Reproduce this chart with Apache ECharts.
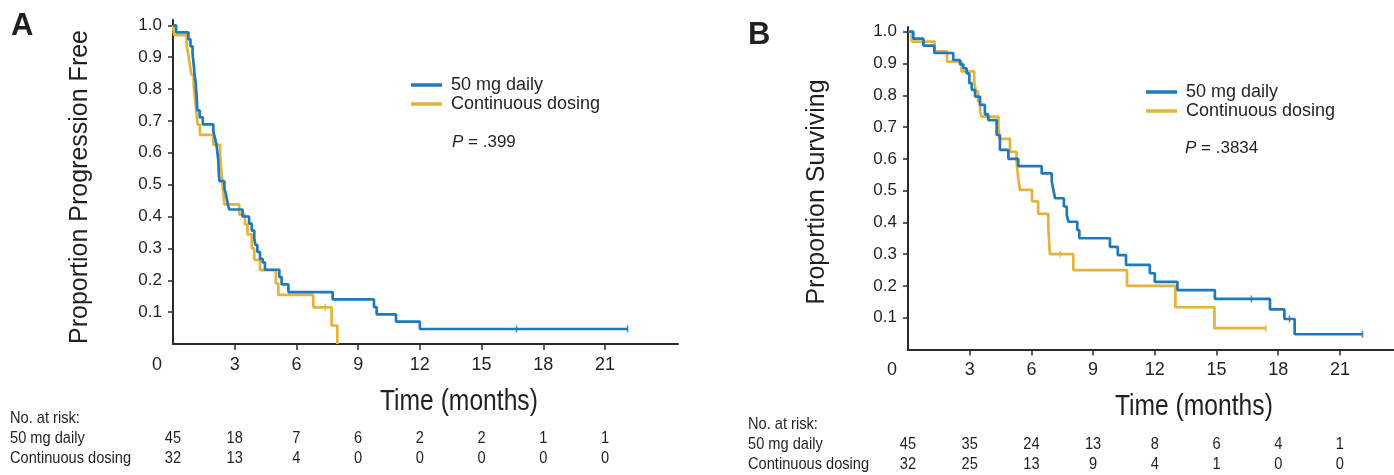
<!DOCTYPE html>
<html><head><meta charset="utf-8">
<script src="https://cdn.jsdelivr.net/npm/echarts@6/dist/echarts.min.js"></script>
<style>html,body{margin:0;padding:0;background:#fff}#c{width:1394px;height:475px}</style>
</head><body><div id="c"></div>
<script>
// ---------- data ----------
const timeTicks = [0, 3, 6, 9, 12, 15, 18, 21];
const yTicks = [0.1, 0.2, 0.3, 0.4, 0.5, 0.6, 0.7, 0.8, 0.9, 1.0];
const seriesNames = ['50 mg daily', 'Continuous dosing'];
const panelLabels = ['A', 'B'];
const yTitles = ['Proportion Progression Free', 'Proportion Surviving'];
const xTitle = 'Time (months)';
const pValues = ['.399', '.3834'];
const riskHeader = 'No. at risk:';

// Panel A: progression-free (time, proportion) - step points
const pfs50 = [[0,1.0],[0.15,0.978],[0.75,0.956],[0.85,0.934],[0.95,0.911],[1.02,0.867],[1.05,0.844],[1.1,0.822],[1.12,0.8],[1.15,0.778],[1.18,0.733],[1.3,0.711],[1.45,0.689],[1.96,0.667],[2.05,0.644],[2.12,0.622],[2.2,0.578],[2.23,0.533],[2.26,0.511],[2.5,0.489],[2.58,0.467],[2.65,0.444],[2.73,0.422],[3.38,0.4],[3.7,0.378],[3.83,0.356],[3.95,0.333],[4.0,0.311],[4.1,0.289],[4.23,0.267],[4.36,0.256],[4.47,0.233],[5.17,0.21],[5.28,0.187],[5.61,0.163],[7.76,0.14],[9.77,0.116],[9.9,0.093],[10.84,0.07],[12.0,0.047],[22.1,0.047]];
const pfsCont = [[0,1.0],[0.05,0.969],[0.66,0.938],[0.75,0.906],[0.82,0.875],[0.9,0.844],[1.0,0.813],[1.05,0.781],[1.1,0.75],[1.15,0.719],[1.2,0.688],[1.31,0.656],[1.96,0.625],[2.29,0.594],[2.33,0.563],[2.37,0.531],[2.41,0.5],[2.45,0.469],[2.5,0.438],[3.22,0.406],[3.5,0.375],[3.62,0.344],[3.83,0.3],[3.95,0.264],[4.23,0.232],[5.0,0.19],[5.12,0.154],[6.82,0.115],[7.71,0.058],[7.99,0]];
const pfsCens50 = [[16.7,0.047],[22.1,0.047]];
const pfsCensCont = [[7.4,0.115]];

// Panel B: overall survival
const os50 = [[0,1.0],[0.26,0.978],[0.75,0.956],[1.28,0.933],[2.2,0.911],[2.53,0.897],[2.69,0.885],[2.85,0.869],[2.98,0.838],[3.1,0.817],[3.26,0.796],[3.5,0.77],[3.74,0.74],[3.9,0.722],[4.31,0.675],[4.47,0.628],[4.88,0.6],[5.36,0.577],[6.5,0.554],[6.99,0.528],[7.07,0.502],[7.15,0.476],[7.58,0.45],[7.72,0.423],[7.8,0.402],[8.23,0.376],[8.33,0.35],[9.82,0.323],[10.2,0.297],[10.6,0.266],[11.76,0.24],[12.0,0.213],[13.1,0.187],[14.92,0.159],[17.6,0.126],[18.3,0.096],[18.8,0.048],[22.1,0.048]];
const osCont = [[0,1.0],[0.18,0.969],[1.3,0.938],[1.9,0.906],[2.6,0.875],[3.22,0.844],[3.3,0.813],[3.4,0.781],[3.5,0.75],[3.58,0.733],[4.4,0.7],[4.45,0.663],[4.96,0.622],[5.28,0.59],[5.36,0.54],[5.44,0.502],[6.03,0.466],[6.33,0.427],[6.82,0.385],[6.9,0.3],[8.04,0.25],[10.65,0.2],[13.0,0.133],[14.9,0.067],[17.4,0.067]];
const osCens50 = [[16.7,0.159],[18.55,0.096],[22.1,0.048]];
const osCensCont = [[7.4,0.3],[17.4,0.067]];

// Numbers at risk
const riskPfs50 = [45, 18, 7, 6, 2, 2, 1, 1];
const riskPfsCont = [32, 13, 4, 0, 0, 0, 0, 0];
const riskOs50 = [45, 35, 24, 13, 8, 6, 4, 1];
const riskOsCont = [32, 25, 13, 9, 4, 1, 0, 0];

// ---------- style ----------
const BLUE = '#1f79bd', GOLD = '#e4b43a', INK = '#231f20', AXIS = '#2b2b2b';
const SANS = '"Liberation Sans", Arial, Helvetica, sans-serif';
function hasFont(name) {
  const c = document.createElement('canvas').getContext('2d');
  c.font = '40px monospace'; const w1 = c.measureText('Time (months) 0123 mg').width;
  c.font = '40px "' + name + '", monospace'; const w2 = c.measureText('Time (months) 0123 mg').width;
  return Math.abs(w1 - w2) > 0.5;
}
const NARROW = hasFont('Liberation Sans Narrow') ? '"Liberation Sans Narrow", ' + SANS : SANS;
const narrowOK = NARROW !== SANS;

const chart = echarts.init(document.getElementById('c'), null, { renderer: 'canvas' });

function xAxis(gi, max) {
  return {
    type: 'value', gridIndex: gi, min: 0, max: max,
    axisLine: { show: true, onZero: false, lineStyle: { color: AXIS, width: 2 } },
    axisTick: { show: true, customValues: timeTicks.slice(1), length: 6, lineStyle: { color: AXIS, width: 1.5 } },
    axisLabel: {
      customValues: timeTicks, margin: 12, fontSize: narrowOK ? 19 : 18, fontFamily: NARROW, color: INK,
      formatter: v => v === 0 ? '{z|0}' : String(v),
      rich: { z: { padding: [0, 32, 0, 0], fontSize: narrowOK ? 19 : 18, fontFamily: NARROW, color: INK } }
    },
    splitLine: { show: false }
  };
}
function yAxis(gi, max) {
  return {
    type: 'value', gridIndex: gi, min: 0, max: max,
    axisLine: { show: true, onZero: false, lineStyle: { color: AXIS, width: 2 } },
    axisTick: { show: true, customValues: yTicks, length: 5, lineStyle: { color: AXIS, width: 1.5 } },
    axisLabel: { customValues: yTicks, margin: 11, fontSize: 17, fontFamily: SANS, color: INK, formatter: v => v.toFixed(1) },
    splitLine: { show: false }
  };
}
function kmLine(name, data, color, gi) {
  return { type: 'line', name: name, data: data, step: 'end', xAxisIndex: gi, yAxisIndex: gi,
    showSymbol: false, symbol: 'none', lineStyle: { color: color, width: 2.7 }, itemStyle: { color: color },
    emphasis: { disabled: true }, animation: false, z: color === BLUE ? 3 : 2 };
}
function censor(data, color, gi) {
  return { type: 'scatter', data: data, xAxisIndex: gi, yAxisIndex: gi, symbol: 'rect', symbolSize: [1.6, 7],
    itemStyle: { color: color }, silent: true, animation: false, z: 4 };
}
function legend(left, top) {
  return { data: seriesNames, orient: 'vertical', left: left, top: top, padding: 0, itemGap: 1,
    icon: 'rect', itemWidth: 31, itemHeight: 3.5, selectedMode: false,
    textStyle: { fontSize: 18, fontFamily: SANS, color: INK, lineHeight: 18, padding: [0, 0, 0, 4] } };
}

chart.setOption({
  backgroundColor: '#fff',
  animation: false,
  grid: [
    { left: 173, top: 20, width: 505, height: 324, outerBoundsMode: 'none', containLabel: false },
    { left: 908, top: 27, width: 486, height: 322.5, outerBoundsMode: 'none', containLabel: false }
  ],
  xAxis: [xAxis(0, 24.55), xAxis(1, 23.63)],
  yAxis: [yAxis(0, 1.0166), yAxis(1, 1.0148)],
  legend: [legend(411, 76), legend(1146, 83)],
  series: [
    kmLine(seriesNames[0], pfs50, BLUE, 0),
    kmLine(seriesNames[1], pfsCont, GOLD, 0),
    censor(pfsCens50, BLUE, 0),
    censor(pfsCensCont, GOLD, 0),
    kmLine(seriesNames[0], os50, BLUE, 1),
    kmLine(seriesNames[1], osCont, GOLD, 1),
    censor(osCens50, BLUE, 1),
    censor(osCensCont, GOLD, 1)
  ]
});

// ---------- text annotations ----------
const g = [];
function txt(o) { g.push(Object.assign({ type: 'text', silent: true }, o)); }
function condText(x, y, s, size, align, sx, weight) {
  txt({ x: x, y: y, scaleX: sx, style: { text: s, fontSize: size, fontFamily: SANS, fill: INK,
    align: align, verticalAlign: 'middle', fontWeight: weight || 'normal' } });
}
// panel letters
txt({ x: 11, y: 26, style: { text: panelLabels[0], fontSize: 31, fontWeight: 'bold', fontFamily: SANS, fill: INK, align: 'left', verticalAlign: 'middle' } });
txt({ x: 748, y: 35, style: { text: panelLabels[1], fontSize: 31, fontWeight: 'bold', fontFamily: SANS, fill: INK, align: 'left', verticalAlign: 'middle' } });
// y titles
txt({ x: 80, y: 187, rotation: Math.PI / 2, style: { text: yTitles[0], fontSize: 25, fontFamily: SANS, fill: INK, align: 'center', verticalAlign: 'middle' } });
txt({ x: 817, y: 192, rotation: Math.PI / 2, style: { text: yTitles[1], fontSize: 25, fontFamily: SANS, fill: INK, align: 'center', verticalAlign: 'middle' } });
// P values
function pText(x, y, p) {
  txt({ x: x, y: y, style: { text: '{i|P} = ' + p, fontSize: 17, fontFamily: SANS, fill: INK, align: 'left', verticalAlign: 'middle',
    rich: { i: { fontStyle: 'italic', fontSize: 17, fontFamily: SANS, fill: INK } } } });
}
pText(452, 142, pValues[0]);
pText(1185, 148, pValues[1]);

// x titles and at-risk tables, positioned from the axes
const panels = [
  { gi: 0, rows: [riskPfs50, riskPfsCont], left: 10, titleY: 402, rowY: [418, 438, 458] },
  { gi: 1, rows: [riskOs50, riskOsCont], left: 748, titleY: 407, rowY: [424, 444, 464] }
];
panels.forEach(p => {
  const xs = timeTicks.map(t => chart.convertToPixel({ gridIndex: p.gi }, [t, 0])[0]);
  const midX = chart.convertToPixel({ gridIndex: p.gi }, [13.9, 0])[0];
  condText(midX, p.titleY, xTitle, 29, 'center', 0.85);
  condText(p.left, p.rowY[0], riskHeader, 17, 'left', 0.86);
  condText(p.left, p.rowY[1], seriesNames[0], 17, 'left', 0.86);
  condText(p.left, p.rowY[2], seriesNames[1], 17, 'left', 0.86);
  p.rows.forEach((row, r) => {
    row.forEach((n, i) => condText(xs[i], p.rowY[r + 1], String(n), 17, 'center', 0.86));
  });
});
chart.setOption({ graphic: g });
</script>
</body></html>
